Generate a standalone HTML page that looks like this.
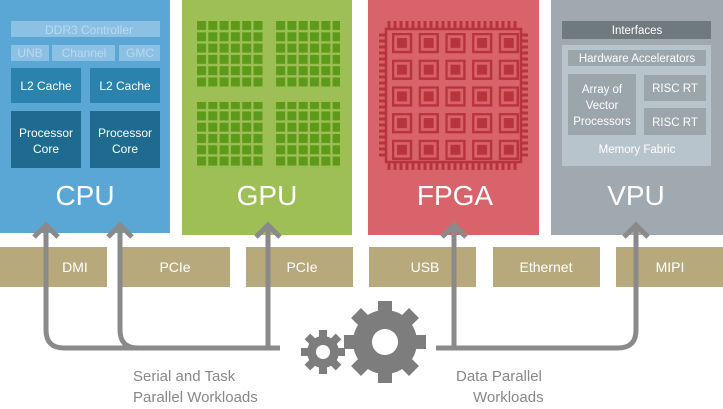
<!DOCTYPE html>
<html><head><meta charset="utf-8"><style>
body{margin:0;width:723px;height:409px;background:#fff;overflow:hidden;position:relative;font-family:"Liberation Sans","DejaVu Sans",sans-serif}
.a{position:absolute;box-sizing:border-box;display:flex;align-items:center;justify-content:center;text-align:center;color:#fff}
</style></head><body>
<svg width="723" height="409" style="position:absolute;left:0;top:0">
<rect x="0" y="0" width="170" height="233" fill="#5aa7d6"/>
<rect x="182" y="0" width="170" height="235" fill="#9dbf55"/>
<rect x="368" y="0" width="171" height="235" fill="#d9636a"/>
<rect x="551" y="0" width="172" height="235" fill="#a0a9b0"/>
<!-- CPU -->
<rect x="11" y="21" width="149" height="16" fill="#8dc1e4"/>
<rect x="11" y="45" width="38" height="16" fill="#8dc1e4"/>
<rect x="52" y="45" width="63" height="16" fill="#8dc1e4"/>
<rect x="119" y="45" width="41" height="16" fill="#8dc1e4"/>
<rect x="11" y="68" width="70" height="35" fill="#2b82ad"/>
<rect x="90" y="68" width="70" height="35" fill="#2b82ad"/>
<rect x="11" y="111" width="70" height="57" fill="#1f6a8f"/>
<rect x="90" y="111" width="70" height="57" fill="#1f6a8f"/>
<g font-size="12" fill="#b8d9ef" text-anchor="middle">
<text x="89" y="34">DDR3 Controller</text><text x="30" y="57">UNB</text><text x="84" y="57">Channel</text><text x="140" y="57">GMC</text></g>
<g font-size="12" fill="#fff" text-anchor="middle">
<text x="46" y="90">L2 Cache</text><text x="125" y="90">L2 Cache</text>
<text x="46" y="137">Processor</text><text x="46" y="153">Core</text>
<text x="125" y="137">Processor</text><text x="125" y="153">Core</text></g>
<g font-size="28" fill="#fff" text-anchor="middle">
<text x="85" y="205">CPU</text><text x="267" y="205">GPU</text><text x="455" y="205">FPGA</text><text x="636" y="205">VPU</text></g>
<!-- GPU -->
<defs>
<pattern id="g" x="197" y="21" width="11.3" height="11.3" patternUnits="userSpaceOnUse"><rect width="9" height="9" fill="#5e9a1a"/></pattern>
<pattern id="f" x="392" y="33" width="26.7" height="26.7" patternUnits="userSpaceOnUse">
<rect x="1" y="1" width="18" height="18" fill="none" stroke="#b8343c" stroke-width="2.5"/><rect x="5" y="5" width="10" height="10" fill="#b8343c"/></pattern>
</defs>
<rect x="197" y="21" width="66" height="66" fill="url(#g)"/>
<rect x="274" y="21" width="66" height="66" fill="url(#g)"/>
<rect x="197" y="102" width="66" height="66" fill="url(#g)"/>
<rect x="274" y="102" width="66" height="66" fill="url(#g)"/>
<!-- FPGA -->
<rect x="386" y="29" width="135" height="133" fill="none" stroke="#b8343c" stroke-width="2.5"/>
<path d="M389 21V28M395 21V28M401 21V28M407 21V28M413 21V28M419 21V28M425 21V28M431 21V28M437 21V28M443 21V28M449 21V28M455 21V28M461 21V28M467 21V28M473 21V28M479 21V28M485 21V28M491 21V28M497 21V28M503 21V28M509 21V28M515 21V28
M389 163V170M395 163V170M401 163V170M407 163V170M413 163V170M419 163V170M425 163V170M431 163V170M437 163V170M443 163V170M449 163V170M455 163V170M461 163V170M467 163V170M473 163V170M479 163V170M485 163V170M491 163V170M497 163V170M503 163V170M509 163V170M515 163V170" stroke="#b8343c" stroke-width="3"/>
<path d="M379 35H385M379 41H385M379 47H385M379 53H385M379 59H385M379 65H385M379 71H385M379 77H385M379 83H385M379 89H385M379 95H385M379 101H385M379 107H385M379 113H385M379 119H385M379 125H385M379 131H385M379 137H385M379 143H385M379 149H385M379 155H385
M522 35H528M522 41H528M522 47H528M522 53H528M522 59H528M522 65H528M522 71H528M522 77H528M522 83H528M522 89H528M522 95H528M522 101H528M522 107H528M522 113H528M522 119H528M522 125H528M522 131H528M522 137H528M522 143H528M522 149H528M522 155H528" stroke="#b8343c" stroke-width="3"/>
<rect x="392" y="33" width="131" height="131" fill="url(#f)"/>
<!-- VPU -->
<rect x="562" y="21" width="149" height="18" fill="#6f7a80"/>
<rect x="562" y="45" width="149" height="121" fill="#b8c4cb"/>
<rect x="568" y="50" width="138" height="16" fill="#9aa5ac"/>
<rect x="568" y="74" width="68" height="61" fill="#9aa5ac"/>
<rect x="644" y="75" width="62" height="26" fill="#9aa5ac"/>
<rect x="644" y="108" width="62" height="27" fill="#9aa5ac"/>
<g font-size="11.5" fill="#fff" text-anchor="middle">
<text x="637" y="34">Interfaces</text><text x="637" y="62">Hardware Accelerators</text>
<text x="602" y="93">Array of</text><text x="602" y="109">Vector</text><text x="602" y="125">Processors</text>
<text x="675" y="92">RISC RT</text><text x="675" y="126">RISC RT</text><text x="637" y="153">Memory Fabric</text></g>
<!-- connectors -->
<g fill="#b8a97c"><rect x="0" y="247" width="107" height="40"/><rect x="120" y="247" width="110" height="40"/><rect x="246" y="247" width="107" height="40"/><rect x="369" y="247" width="107" height="40"/><rect x="493" y="247" width="107" height="40"/><rect x="616" y="247" width="107" height="40"/></g>
<g font-size="14" fill="#fff" text-anchor="middle">
<text x="75" y="272">DMI</text><text x="175" y="272">PCIe</text><text x="302" y="272">PCIe</text><text x="425" y="272">USB</text><text x="546" y="272">Ethernet</text><text x="670" y="272">MIPI</text></g>
<!-- arrows -->
<g fill="none" stroke="#8a8a8a" stroke-width="5" stroke-linejoin="miter">
<path d="M46 226V330Q46 348 64 348H280"/>
<path d="M120 226V330Q120 348 138 348"/>
<path d="M268 226V348"/>
<path d="M436 348H618Q636 348 636 330V226"/>
<path d="M454 226V348"/>
<path d="M34 237L46 225L58 237M108 237L120 225L132 237M256 237L268 225L280 237M442 237L454 225L466 237M624 237L636 225L648 237"/>
</g>
<!-- gears -->
<g fill="#7d7d7d">
<g transform="translate(385,342)"><circle r="32"/>
<rect x="-7" y="-41" width="14" height="82"/><rect x="-7" y="-41" width="14" height="82" transform="rotate(45)"/><rect x="-7" y="-41" width="14" height="82" transform="rotate(90)"/><rect x="-7" y="-41" width="14" height="82" transform="rotate(135)"/>
<circle r="13" fill="#fff"/></g>
<g transform="translate(323,352)"><circle r="16"/>
<rect x="-4" y="-22" width="8" height="44"/><rect x="-4" y="-22" width="8" height="44" transform="rotate(45)"/><rect x="-4" y="-22" width="8" height="44" transform="rotate(90)"/><rect x="-4" y="-22" width="8" height="44" transform="rotate(135)"/>
<circle r="7" fill="#fff"/></g>
</g>
<g font-size="15" fill="#888">
<text x="133" y="381">Serial and Task</text><text x="133" y="402">Parallel Workloads</text>
<text x="456" y="381">Data Parallel</text><text x="473" y="402">Workloads</text></g>
</svg>
</body></html>
